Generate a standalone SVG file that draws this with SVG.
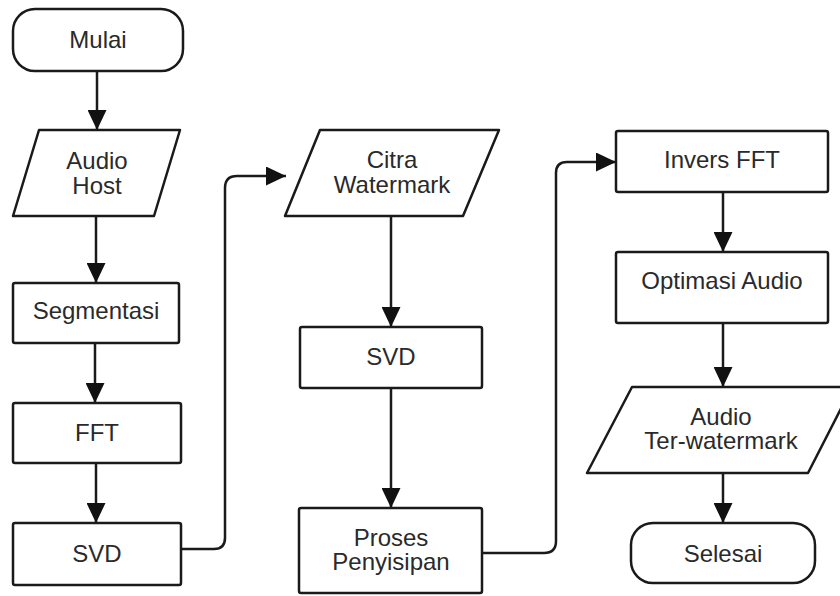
<svg xmlns="http://www.w3.org/2000/svg" width="840" height="596" viewBox="0 0 840 596">
<style>
.s{fill:#fff;stroke:#1a1a1a;stroke-width:2.5;stroke-linejoin:round}
.t{font-family:"Liberation Sans",Arial,sans-serif;font-size:24px;fill:#2a2a2a;text-anchor:middle}
.c{fill:none;stroke:#1a1a1a;stroke-width:2.5}
</style>
<defs>
<marker id="ah" markerUnits="userSpaceOnUse" markerWidth="20" markerHeight="19" refX="20" refY="9.5" orient="auto">
<path d="M0,0 L20,9.5 L0,19 z" fill="#111"/>
</marker>
</defs>
<rect width="840" height="596" fill="#fff"/>
<g id="connectors">
<path class="c" d="M97,71 V130" marker-end="url(#ah)"/>
<path class="c" d="M96,216 V283" marker-end="url(#ah)"/>
<path class="c" d="M95,343 V403" marker-end="url(#ah)"/>
<path class="c" d="M96,463 V523" marker-end="url(#ah)"/>
<path class="c" d="M181,549 H214 Q225,549 225,538 V188 Q225,176 237,176 H286" marker-end="url(#ah)"/>
<path class="c" d="M391,216 V327" marker-end="url(#ah)"/>
<path class="c" d="M391,388 V508" marker-end="url(#ah)"/>
<path class="c" d="M482,553 H544 Q556,553 556,541 V173 Q556,162 567,162 H616" marker-end="url(#ah)"/>
<path class="c" d="M723,192 V252" marker-end="url(#ah)"/>
<path class="c" d="M723,323 V387" marker-end="url(#ah)"/>
<path class="c" d="M723,473 V523" marker-end="url(#ah)"/>
</g>
<g id="mulai"><rect class="s" x="13" y="9" width="170" height="62" rx="22"/><text class="t" x="98" y="48">Mulai</text></g>
<g id="audio-host"><polygon class="s" points="39,130 180,130 154,216 13,216"/><text class="t" x="97" y="169">Audio</text><text class="t" x="97" y="194">Host</text></g>
<g id="segmentasi"><rect class="s" x="13" y="283" width="166" height="60" rx="2"/><text class="t" x="96" y="319">Segmentasi</text></g>
<g id="fft"><rect class="s" x="13" y="403" width="168" height="60" rx="2"/><text class="t" x="97" y="441">FFT</text></g>
<g id="svd1"><rect class="s" x="13" y="523" width="168" height="62" rx="2"/><text class="t" x="97" y="562">SVD</text></g>
<g id="citra"><polygon class="s" points="320,130 499,130 463,216 285,216"/><text class="t" x="392" y="168">Citra</text><text class="t" x="392" y="193">Watermark</text></g>
<g id="svd2"><rect class="s" x="300" y="327" width="182" height="61" rx="2"/><text class="t" x="391" y="365">SVD</text></g>
<g id="proses"><rect class="s" x="299" y="508" width="183" height="85" rx="2"/><text class="t" x="391" y="546">Proses</text><text class="t" x="391" y="570">Penyisipan</text></g>
<g id="invers"><rect class="s" x="616" y="131" width="212" height="61" rx="2"/><text class="t" x="722" y="168">Invers FFT</text></g>
<g id="optimasi"><rect class="s" x="616" y="252" width="212" height="71" rx="2"/><text class="t" x="722" y="289">Optimasi Audio</text></g>
<g id="audio-ter"><polygon class="s" points="632,387 852,387 808,473 587,473"/><text class="t" x="721" y="425">Audio</text><text class="t" x="721" y="449">Ter-watermark</text></g>
<g id="selesai"><rect class="s" x="631" y="523" width="184" height="60" rx="22"/><text class="t" x="723" y="562">Selesai</text></g>
</svg>
